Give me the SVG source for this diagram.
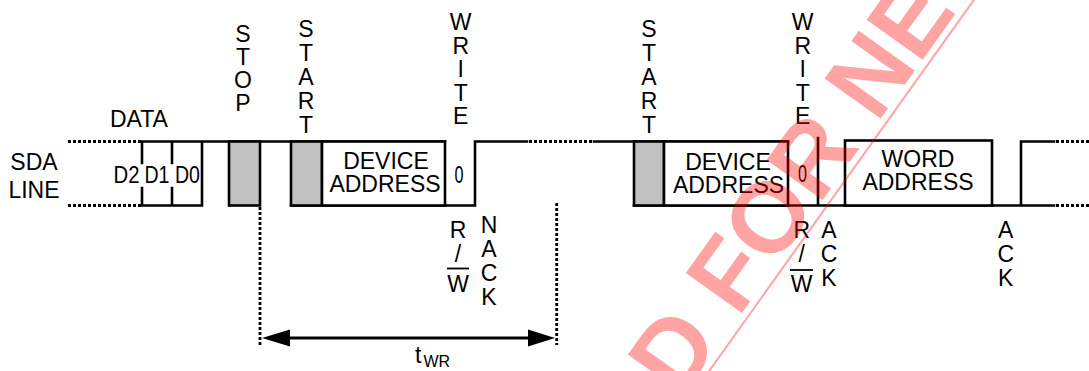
<svg xmlns="http://www.w3.org/2000/svg" width="1089" height="371" viewBox="0 0 1089 371">
<style>
.ln{fill:none;stroke:#000;stroke-width:2.6;stroke-linecap:square;stroke-linejoin:miter}
.dot{fill:none;stroke:#000;stroke-width:2.8;stroke-dasharray:3 2}
.box{fill:#fff;stroke:#000;stroke-width:2.6}
.gray{fill:#c0c0c0;stroke:#000;stroke-width:2.6}
.t{font-family:"Liberation Sans",Arial,sans-serif;font-size:23px;fill:#000}
.c{text-anchor:middle}
.wm{font-family:"Liberation Sans",Arial,sans-serif;font-size:100px;font-weight:bold;fill:#ff0000;fill-opacity:0.36}
</style>
<rect width="1089" height="371" fill="#fff"/>
<g id="connectors">
  <path class="dot" d="M68,141.5H141M68,205.5H141"/>
  <path class="ln" d="M142,141.5H445M142,205.5H202M202,141.5V205.5M142,141.5V163M142,188V205.5M172,141.5V163M172,188V205.5"/>
  <path class="ln" d="M291,205.5H475V141.5H527"/>
  <path class="dot" d="M529,141.5H592"/>
  <path class="ln" d="M594,141.5H788M634,205.5H1054M818,138V205.5M1021,205.5V141.5H1054"/>
  <path class="dot" d="M1056,141.5H1089M1056,205.5H1089"/>
  <path class="dot" d="M260,207V345M556.7,203V345"/>
  <path d="M285,338H532" stroke="#000" stroke-width="3.2"/>
  <polygon points="262,338 290,329.5 290,346.5" fill="#000"/>
  <polygon points="555,338 528,329.5 528,346.5" fill="#000"/>
</g>
<g id="sda-label">
  <text class="t c" x="34" y="170">SDA</text>
  <text class="t c" x="34" y="198">LINE</text>
</g>
<g id="data">
  <text class="t" x="110" y="127">DATA</text>
  <text class="t c" x="126.5" y="183" textLength="26" lengthAdjust="spacingAndGlyphs">D2</text>
  <text class="t c" x="157" y="183" textLength="25" lengthAdjust="spacingAndGlyphs">D1</text>
  <text class="t c" x="187.5" y="183" textLength="25" lengthAdjust="spacingAndGlyphs">D0</text>
</g>
<g id="stop">
  <rect class="gray" x="229" y="141.5" width="31" height="64"/>
  <text class="t c" x="243"><tspan x="243" y="41.5">S</tspan><tspan x="243" y="64.8">T</tspan><tspan x="243" y="88.1">O</tspan><tspan x="243" y="111.4">P</tspan></text>
</g>
<g id="start1">
  <rect class="gray" x="291" y="141.5" width="31" height="64"/>
  <text class="t c"><tspan x="306" y="36.5">S</tspan><tspan x="306" y="60.5">T</tspan><tspan x="306" y="84.5">A</tspan><tspan x="306" y="108.5">R</tspan><tspan x="306" y="132.5">T</tspan></text>
</g>
<g id="device-address1">
  <rect class="box" x="322" y="141.5" width="123" height="64"/>
  <text class="t c" x="386" y="168.5">DEVICE</text>
  <text class="t c" x="385" y="192">ADDRESS</text>
</g>
<g id="write1">
  <text class="t c" x="459" y="183" textLength="9" lengthAdjust="spacingAndGlyphs">0</text>
  <text class="t c"><tspan x="460.7" y="30">W</tspan><tspan x="460.7" y="53.5">R</tspan><tspan x="460.7" y="77">I</tspan><tspan x="460.7" y="100.5">T</tspan><tspan x="460.7" y="124">E</tspan></text>
  <text class="t c"><tspan x="458" y="238">R</tspan><tspan x="458" y="262">/</tspan><tspan x="458" y="292">W</tspan></text>
  <line x1="447" y1="268.5" x2="469" y2="268.5" stroke="#000" stroke-width="1.8"/>
</g>
<g id="nack">
  <text class="t c"><tspan x="489" y="233">N</tspan><tspan x="489" y="257">A</tspan><tspan x="489" y="281">C</tspan><tspan x="489" y="305">K</tspan></text>
</g>
<g id="twr">
  <text class="t" x="415" y="363" font-size="22">t</text>
  <text class="t" x="423.5" y="367" style="font-size:16px">WR</text>
</g>
<g id="start2">
  <rect class="gray" x="634" y="141.5" width="30" height="64"/>
  <text class="t c"><tspan x="649" y="36.5">S</tspan><tspan x="649" y="60.5">T</tspan><tspan x="649" y="84.5">A</tspan><tspan x="649" y="108.5">R</tspan><tspan x="649" y="132.5">T</tspan></text>
</g>
<g id="device-address2">
  <rect class="box" x="664" y="141.5" width="124" height="64"/>
  <text class="t c" x="728" y="170">DEVICE</text>
  <text class="t c" x="728.5" y="193">ADDRESS</text>
</g>
<g id="write2">
  <text class="t c" x="802.5" y="182" textLength="9" lengthAdjust="spacingAndGlyphs">0</text>
  <text class="t c"><tspan x="802.7" y="30">W</tspan><tspan x="802.7" y="53.5">R</tspan><tspan x="802.7" y="77">I</tspan><tspan x="802.7" y="100.5">T</tspan><tspan x="802.7" y="124">E</tspan></text>
  <text class="t c"><tspan x="801.7" y="238">R</tspan><tspan x="801.7" y="262">/</tspan><tspan x="801.7" y="292">W</tspan></text>
  <line x1="790" y1="270" x2="813" y2="270" stroke="#000" stroke-width="1.8"/>
</g>
<g id="ack1">
  <text class="t c"><tspan x="829" y="238">A</tspan><tspan x="829" y="262">C</tspan><tspan x="829" y="286">K</tspan></text>
</g>
<g id="word-address">
  <rect class="box" x="845" y="140.5" width="147" height="65"/>
  <text class="t c" x="918" y="167">WORD</text>
  <text class="t c" x="918" y="190">ADDRESS</text>
</g>
<g id="ack2">
  <text class="t c"><tspan x="1005.7" y="238">A</tspan><tspan x="1005.7" y="262">C</tspan><tspan x="1005.7" y="286">K</tspan></text>
</g>
<g id="watermark">
  <text class="wm" transform="translate(680,400) rotate(-54.5)">D FOR NE</text>
  <line x1="702" y1="381" x2="976" y2="-3" stroke="#ff0000" stroke-opacity="0.36" stroke-width="2"/>
</g>
</svg>
